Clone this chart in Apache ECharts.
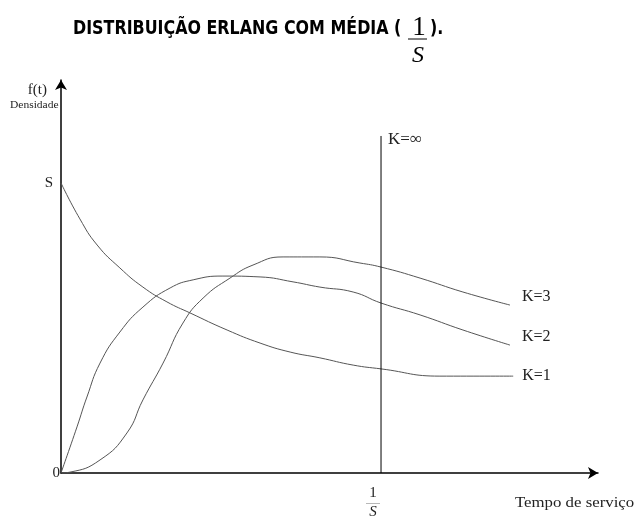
<!DOCTYPE html>
<html>
<head>
<meta charset="utf-8">
<script src="https://cdn.jsdelivr.net/npm/echarts@6/dist/echarts.min.js"></script>
<style>
  html, body { margin: 0; padding: 0; background: #fff; }
  #chart { width: 636px; height: 517px; }
</style>
</head>
<body>
<div id="chart"></div>
<script>
// tempo em unidades de 1/S, densidade em unidades de S
const k1 = [[0, 1.0], [0.059, 0.876], [0.113, 0.786], [0.184, 0.707], [0.256, 0.641], [0.331, 0.59],
  [0.403, 0.552], [0.519, 0.493], [0.622, 0.448], [0.716, 0.417], [0.809, 0.397], [0.913, 0.372],
  [1.0, 0.359], [1.184, 0.334], [1.413, 0.334]];
const k2 = [[0, 0], [0.05, 0.159], [0.081, 0.262], [0.122, 0.379], [0.184, 0.486], [0.256, 0.572],
  [0.341, 0.638], [0.413, 0.666], [0.506, 0.679], [0.622, 0.676], [0.725, 0.659], [0.809, 0.641],
  [0.913, 0.624], [1.0, 0.586], [1.122, 0.545], [1.256, 0.493], [1.403, 0.441]];
const k3 = [[0, 0], [0.028, 0.003], [0.122, 0.045], [0.206, 0.138], [0.256, 0.252], [0.319, 0.379],
  [0.381, 0.517], [0.444, 0.603], [0.528, 0.672], [0.6, 0.717], [0.694, 0.745], [0.809, 0.745],
  [0.934, 0.724], [1.0, 0.71], [1.122, 0.672], [1.256, 0.624], [1.403, 0.579]];
const kInf = [[1, 0], [1, 1.162]];

const serif = "'Liberation Serif', 'DejaVu Serif', serif";
const titleFont = "bold 19px 'DejaVu Sans Condensed', 'DejaVu Sans', sans-serif";

const chart = echarts.init(document.getElementById("chart"));

const curve = (name, data, distance, offset) => ({
  name: name,
  type: "line",
  data: data,
  smooth: true,
  symbol: "none",
  silent: true,
  lineStyle: { color: "#555", width: 1 },
  endLabel: {
    show: true,
    formatter: name,
    color: "#222",
    fontFamily: serif,
    fontSize: 16,
    distance: distance,
    offset: offset,
  },
});

chart.setOption({
  animation: false,
  grid: { left: 61, top: 80, right: 38, bottom: 44, outerBoundsMode: "none", containLabel: false },
  xAxis: {
    type: "value",
    min: 0,
    max: 1.678,
    interval: 1,
    splitLine: { show: false },
    axisTick: { show: false },
    axisLine: {
      lineStyle: { color: "#000", width: 1.5 },
      symbol: ["none", "arrow"],
      symbolSize: [9, 10],
    },
    axisLabel: {
      margin: 14,
      formatter: (v) => (v === 1 ? "{n|1}\n{b|——}\n{d|S}" : ""),
      rich: {
        n: { fontFamily: serif, fontSize: 15, color: "#222", lineHeight: 13, padding: [0, 16, 0, 0] },
        b: { fontFamily: serif, fontSize: 7, color: "#222", lineHeight: 6, padding: [0, 16, 0, 0] },
        d: { fontFamily: serif, fontSize: 15, fontStyle: "italic", color: "#222", lineHeight: 13, padding: [0, 16, 0, 0] },
      },
    },
  },
  yAxis: {
    type: "value",
    min: 0,
    max: 1.355,
    interval: 1,
    splitLine: { show: false },
    axisTick: { show: false },
    axisLine: {
      lineStyle: { color: "#000", width: 1.5 },
      symbol: ["none", "arrow"],
      symbolSize: [9, 10],
    },
    axisLabel: {
      margin: 1,
      formatter: (v) => (v === 0 ? "{z|0}" : v === 1 ? "{s|S}" : ""),
      rich: {
        z: { fontFamily: serif, fontSize: 15, color: "#222" },
        s: { fontFamily: serif, fontSize: 15, color: "#222", padding: [0, 7, 0, 0] },
      },
    },
  },
  series: [
    curve("K=1", k1, 9, [0, 0]),
    curve("K=2", k2, 12, [0, -8]),
    curve("K=3", k3, 12, [0, -8]),
    {
      name: "K=∞",
      type: "line",
      data: kInf,
      symbol: "none",
      silent: true,
      lineStyle: { color: "#000", width: 1 },
      endLabel: {
        show: true,
        formatter: "K=∞",
        color: "#222",
        fontFamily: serif,
        fontSize: 17,
        distance: 7,
        offset: [0, 4],
      },
    },
  ],
  graphic: [
    {
      type: "text", x: 73, y: 29, scaleX: 0.93,
      style: { text: "DISTRIBUIÇÃO ERLANG COM MÉDIA (", font: titleFont, fill: "#000", verticalAlign: "middle" },
    },
    {
      type: "text", x: 419, y: 28,
      style: { text: "1", font: "27px " + serif, fill: "#000", align: "center", verticalAlign: "middle" },
    },
    {
      type: "line",
      shape: { x1: 408, y1: 39, x2: 427, y2: 39 },
      style: { stroke: "#000", lineWidth: 1 },
    },
    {
      type: "text", x: 418, y: 56,
      style: { text: "S", font: "italic 24px " + serif, fill: "#000", align: "center", verticalAlign: "middle" },
    },
    {
      type: "text", x: 430, y: 29, scaleX: 0.93,
      style: { text: ").", font: titleFont, fill: "#000", verticalAlign: "middle" },
    },
    {
      type: "text", x: 47, y: 90,
      style: { text: "f(t)", font: "15px " + serif, fill: "#222", align: "right", verticalAlign: "middle" },
    },
    {
      type: "text", x: 10, y: 105, scaleX: 1.15,
      style: { text: "Densidade", font: "10px " + serif, fill: "#222", verticalAlign: "middle" },
    },
    {
      type: "text", x: 515, y: 503, scaleX: 1.2,
      style: { text: "Tempo de serviço", font: "14px " + serif, fill: "#222", verticalAlign: "middle" },
    },
  ],
});
</script>
</body>
</html>
